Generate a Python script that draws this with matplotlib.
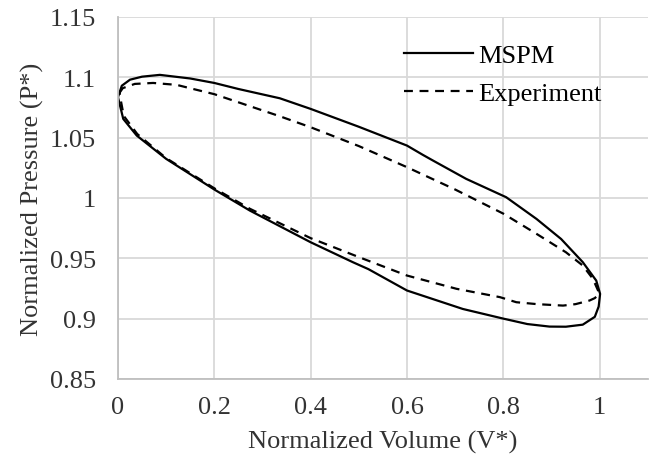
import matplotlib.pyplot as plt

plt.rcParams['font.family'] = ['Liberation Serif', 'DejaVu Serif']

# MSPM loop, clockwise from V=0
mspm_v = [0.000, 0.008, 0.025, 0.050, 0.087, 0.150, 0.200, 0.250, 0.336, 0.400,
          0.500, 0.600, 0.633, 0.654, 0.723, 0.806, 0.869, 0.920, 0.965, 0.993,
          1.001, 0.998, 0.990, 0.965, 0.930, 0.896, 0.850, 0.800, 0.716, 0.600,
          0.520, 0.488, 0.400, 0.274, 0.200, 0.100, 0.039, 0.011, 0.000]
mspm_p = [1.0835, 1.0930, 1.0980, 1.1005, 1.1020, 1.0990, 1.0953, 1.0903, 1.0826, 1.0738,
          1.0590, 1.0434, 1.0357, 1.0310, 1.0158, 1.0006, 0.9826, 0.9660, 0.9468, 0.9315,
          0.9205, 0.9100, 0.9015, 0.8950, 0.8933, 0.8934, 0.8955, 0.9000, 0.9080, 0.9233,
          0.9410, 0.9467, 0.9633, 0.9895, 1.0070, 1.0324, 1.0517, 1.0655, 1.0835]

# Experiment loop
exp_v = [0.003, 0.010, 0.035, 0.073, 0.122, 0.149, 0.200, 0.336, 0.400, 0.500,
         0.600, 0.700, 0.800, 0.870, 0.930, 0.965, 0.986, 0.997, 0.998, 0.990,
         0.979, 0.950, 0.924, 0.870, 0.827, 0.793, 0.703, 0.600, 0.500, 0.400,
         0.274, 0.200, 0.100, 0.040, 0.012, 0.003]
exp_p = [1.0870, 1.0910, 1.0945, 1.0953, 1.0937, 1.0910, 1.0860, 1.0677, 1.0586, 1.0430,
         1.0255, 1.0070, 0.9870, 0.9700, 0.9550, 0.9440, 0.9330, 0.9230, 0.9200, 0.9170,
         0.9150, 0.9120, 0.9108, 0.9120, 0.9136, 0.9178, 0.9247, 0.9357, 0.9510, 0.9667,
         0.9910, 1.0080, 1.0330, 1.0530, 1.0680, 1.0870]

x_ticks = [0, 0.2, 0.4, 0.6, 0.8, 1]
x_labels = ['0', '0.2', '0.4', '0.6', '0.8', '1']
y_ticks = [0.85, 0.9, 0.95, 1.0, 1.05, 1.1, 1.15]
y_labels = ['0.85', '0.9', '0.95', '1', '1.05', '1.1', '1.15']

txt = '#333333'

fig = plt.figure(figsize=(6.59, 4.6), dpi=100)
ax = fig.add_axes([0.179, 0.174, 0.804, 0.787])

ax.plot(mspm_v, mspm_p, color='black', linewidth=1.6, label='MSPM')
ax.plot(exp_v, exp_p, color='black', linewidth=1.6, linestyle=(0, (4, 3)), label='Experiment')

ax.set_xlim(0, 1.1)
ax.set_ylim(0.85, 1.15)
ax.set_xticks(x_ticks)
ax.set_xticklabels(x_labels)
ax.set_yticks(y_ticks)
ax.set_yticklabels(y_labels)
ax.tick_params(length=0, labelsize=19, colors=txt)
ax.tick_params(axis='x', pad=12)
ax.tick_params(axis='y', pad=16)
ax.grid(True, color='#d9d9d9', linewidth=1.3)
ax.set_axisbelow(True)

for side in ['top', 'right']:
    ax.spines[side].set_visible(False)
for side in ['left', 'bottom']:
    ax.spines[side].set_color('#bfbfbf')
    ax.spines[side].set_linewidth(1.3)

ax.set_xlabel('Normalized Volume (V*)', fontsize=19, color=txt)
ax.set_ylabel('Normalized Pressure (P*)', fontsize=19, color=txt)
ax.xaxis.set_label_coords(0.5, -0.14)
ax.yaxis.set_label_coords(-0.14, 0.5)

ax.legend(loc='upper left', bbox_to_anchor=(0.52, 0.955), frameon=False, fontsize=19,
          handlelength=2.6, labelspacing=0.55, handletextpad=0.2, borderaxespad=0.0)

fig.savefig('out.png', dpi=100)
